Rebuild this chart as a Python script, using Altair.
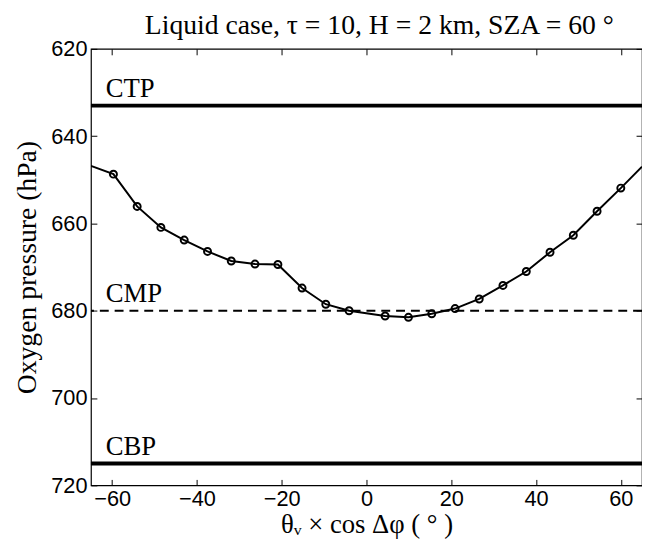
import altair as alt
import pandas as pd

# viewing-angle abscissa (deg) and oxygen pressure (hPa) of the marked points
x_vals = [-59.7, -54.1, -48.5, -43.0, -37.5, -31.9, -26.3, -20.9, -15.2, -9.6, -4.1,
          4.4, 9.9, 15.4, 20.9, 26.6, 32.2, 37.7, 43.3, 48.8, 54.4, 60.0]
p_vals = [648.7, 656.1, 660.9, 663.8, 666.4, 668.6, 669.3, 669.4, 674.8, 678.5, 680.0,
          681.2, 681.5, 680.7, 679.5, 677.3, 674.2, 671.0, 666.6, 662.7, 657.2, 651.9]
# curve continues to the frame edges
edge_x = [-65.0, 65.0]
edge_p = [646.8, 647.0]

level_names = ["CTP", "CMP", "CBP"]
level_vals = [633, 680, 715]
label_x = -61.5

x_ticks = [-60, -40, -20, 0, 20, 40, 60]
y_ticks = [620, 640, 660, 680, 700, 720]

line_df = pd.DataFrame({"x": [edge_x[0]] + x_vals + [edge_x[1]],
                        "p": [edge_p[0]] + p_vals + [edge_p[1]]})
pts_df = pd.DataFrame({"x": x_vals, "p": p_vals})
lvl_df = pd.DataFrame({"name": level_names, "p": level_vals, "lx": [label_x] * 3})
solid_df = lvl_df[lvl_df["name"] != "CMP"]
dash_df = lvl_df[lvl_df["name"] == "CMP"]

xscale = alt.Scale(domain=[-65, 65], nice=False, zero=False)
yscale = alt.Scale(domain=[620, 720], reverse=True, nice=False, zero=False)

SANS = "Liberation Sans"
SERIF = "Liberation Serif"

common = dict(domain=False, grid=False, tickColor="black", tickWidth=1,
              tickSize=6, offset=-6)

x_main = alt.Axis(orient="bottom", values=x_ticks, labelFont=SANS, labelFontSize=22,
                  labelColor="black", labelPadding=3,
                  title="θᵥ × cos Δφ ( ° )", titleFont=SERIF, titleFontSize=27,
                  titleFontWeight="normal", titleColor="black", titlePadding=3,
                  **common)
y_main = alt.Axis(orient="left", values=y_ticks, labelFont=SANS, labelFontSize=22,
                  labelColor="black", labelPadding=4,
                  title="Oxygen pressure (hPa)", titleFont=SERIF, titleFontSize=28,
                  titleFontWeight="normal", titleColor="black", titlePadding=9,
                  **common)
x_top = alt.Axis(orient="top", values=x_ticks, labels=False, title=None, **common)
y_right = alt.Axis(orient="right", values=y_ticks, labels=False, title=None, **common)

solid = alt.Chart(solid_df).mark_rule(color="black", strokeWidth=4).encode(
    y=alt.Y("p:Q", scale=yscale, axis=y_right)
)
top_dummy = alt.Chart(solid_df).mark_point(opacity=0).encode(
    x=alt.X("lx:Q", scale=xscale, axis=x_top),
    y=alt.Y("p:Q", scale=yscale, axis=None),
)
dashed = alt.Chart(dash_df).mark_rule(color="black", strokeWidth=2,
                                      strokeDash=[9, 6]).encode(
    y=alt.Y("p:Q", scale=yscale, axis=None)
)
line = alt.Chart(line_df).mark_line(color="black", strokeWidth=2, clip=True).encode(
    x=alt.X("x:Q", scale=xscale, axis=x_main),
    y=alt.Y("p:Q", scale=yscale, axis=y_main),
)
pts = alt.Chart(pts_df).mark_point(shape="circle", filled=False, color="black",
                                   strokeWidth=2, size=50, opacity=1).encode(
    x=alt.X("x:Q", scale=xscale, axis=None),
    y=alt.Y("p:Q", scale=yscale, axis=None),
)
labels = alt.Chart(lvl_df).mark_text(align="left", baseline="alphabetic", dy=-9,
                                     font=SERIF, fontSize=27, color="black").encode(
    x=alt.X("lx:Q", scale=xscale, axis=None),
    y=alt.Y("p:Q", scale=yscale, axis=None),
    text="name:N",
)

chart = alt.layer(solid, top_dummy, dashed, line, pts, labels).resolve_axis(
    x="independent", y="independent"
).properties(
    width=558,
    height=442,
    autosize=alt.AutoSizeParams(type="none"),
    padding={"left": 84, "top": 38, "right": 0, "bottom": 56},
    title=alt.TitleParams("Liquid case, τ = 10, H = 2 km, SZA = 60 °", font=SERIF,
                          fontSize=28, fontWeight="normal", color="black",
                          anchor="middle", offset=-2, dx=13),
).configure_view(stroke="black", strokeWidth=1.2)

chart.save("out.html", embed_options={"renderer": "svg", "actions": False})
